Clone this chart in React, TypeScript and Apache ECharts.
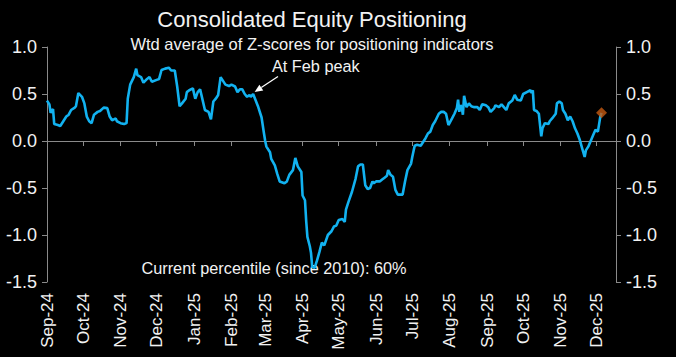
import React, { useEffect, useRef } from "react";
import * as echarts from "echarts";

const TITLE = "Consolidated Equity Positioning";
const SUBTITLE = "Wtd average of Z-scores for positioning indicators";
const PEAK_NOTE = "At Feb peak";
const PERCENTILE_NOTE = "Current percentile (since 2010): 60%";
const PEAK_DATE = "2025-02-19";

const AXIS_START = "2024-09-01";
const AXIS_END = "2025-12-17";
const MONTH_NAMES = ["Jan", "Feb", "Mar", "Apr", "May", "Jun", "Jul", "Aug", "Sep", "Oct", "Nov", "Dec"];
const Y_TICKS = [-1.5, -1.0, -0.5, 0.0, 0.5, 1.0];

const dates = [
  "2024-09-01", "2024-09-03", "2024-09-04", "2024-09-06", "2024-09-07", "2024-09-10", "2024-09-12", "2024-09-14",
  "2024-09-17", "2024-09-19", "2024-09-21", "2024-09-24", "2024-09-25", "2024-09-27", "2024-09-30",
  "2024-10-02", "2024-10-04", "2024-10-06", "2024-10-08", "2024-10-10", "2024-10-13", "2024-10-15", "2024-10-18",
  "2024-10-21", "2024-10-23", "2024-10-25", "2024-10-28", "2024-10-29",
  "2024-11-01", "2024-11-04", "2024-11-06", "2024-11-07", "2024-11-09", "2024-11-12", "2024-11-14", "2024-11-15",
  "2024-11-18", "2024-11-20", "2024-11-23", "2024-11-25", "2024-11-27",
  "2024-12-01", "2024-12-03", "2024-12-05", "2024-12-08", "2024-12-11", "2024-12-13", "2024-12-16", "2024-12-18",
  "2024-12-20", "2024-12-22", "2024-12-25", "2024-12-26", "2024-12-28", "2024-12-31",
  "2025-01-02", "2025-01-04", "2025-01-06", "2025-01-08", "2025-01-10", "2025-01-13", "2025-01-15", "2025-01-17",
  "2025-01-19", "2025-01-21", "2025-01-23", "2025-01-25", "2025-01-27", "2025-01-30",
  "2025-02-01", "2025-02-04", "2025-02-06", "2025-02-08", "2025-02-10", "2025-02-12", "2025-02-14", "2025-02-16",
  "2025-02-17", "2025-02-19", "2025-02-23", "2025-02-25", "2025-02-26", "2025-02-28",
  "2025-03-01", "2025-03-02", "2025-03-05", "2025-03-06", "2025-03-09", "2025-03-11", "2025-03-13", "2025-03-17",
  "2025-03-19", "2025-03-21", "2025-03-24", "2025-03-26", "2025-03-28", "2025-03-31",
  "2025-04-01", "2025-04-03", "2025-04-04", "2025-04-05", "2025-04-07", "2025-04-08", "2025-04-09", "2025-04-11",
  "2025-04-13", "2025-04-15", "2025-04-17", "2025-04-19", "2025-04-22", "2025-04-25", "2025-04-27", "2025-04-29",
  "2025-05-01", "2025-05-04", "2025-05-06", "2025-05-07", "2025-05-09", "2025-05-12", "2025-05-15", "2025-05-17",
  "2025-05-19", "2025-05-21", "2025-05-23", "2025-05-25", "2025-05-27", "2025-05-29", "2025-05-30",
  "2025-06-01", "2025-06-04", "2025-06-06", "2025-06-08", "2025-06-10", "2025-06-11", "2025-06-13", "2025-06-15",
  "2025-06-17", "2025-06-19", "2025-06-23", "2025-06-25", "2025-06-27", "2025-06-30",
  "2025-07-01", "2025-07-03", "2025-07-05", "2025-07-08", "2025-07-10", "2025-07-12", "2025-07-14", "2025-07-16",
  "2025-07-18", "2025-07-20", "2025-07-23", "2025-07-25", "2025-07-27", "2025-07-29", "2025-07-31",
  "2025-08-03", "2025-08-05", "2025-08-07", "2025-08-08", "2025-08-09", "2025-08-10", "2025-08-11", "2025-08-12",
  "2025-08-13", "2025-08-15", "2025-08-17", "2025-08-19", "2025-08-21", "2025-08-24", "2025-08-26", "2025-08-28",
  "2025-08-31",
  "2025-09-02", "2025-09-04", "2025-09-07", "2025-09-08", "2025-09-11", "2025-09-13", "2025-09-15", "2025-09-17",
  "2025-09-19", "2025-09-22", "2025-09-24", "2025-09-26", "2025-09-29",
  "2025-10-01", "2025-10-04", "2025-10-07", "2025-10-08", "2025-10-09", "2025-10-10", "2025-10-12", "2025-10-14",
  "2025-10-16", "2025-10-17", "2025-10-19", "2025-10-22", "2025-10-23", "2025-10-25", "2025-10-28", "2025-10-29",
  "2025-10-31",
  "2025-11-02", "2025-11-03", "2025-11-05", "2025-11-07", "2025-11-09", "2025-11-11", "2025-11-13", "2025-11-15",
  "2025-11-17", "2025-11-19", "2025-11-21", "2025-11-22", "2025-11-24", "2025-11-26", "2025-11-28", "2025-11-30",
  "2025-12-02", "2025-12-04", "2025-12-05",
];

const values = [
  0.43, 0.39, 0.30, 0.34, 0.18, 0.17, 0.16, 0.20,
  0.26, 0.28, 0.33, 0.355, 0.37, 0.51, 0.47,
  0.40, 0.26, 0.21, 0.19, 0.28, 0.31, 0.32, 0.355,
  0.35, 0.26, 0.22, 0.24, 0.21,
  0.19, 0.18, 0.19, 0.45, 0.60, 0.68, 0.77, 0.70,
  0.68, 0.62, 0.66, 0.68, 0.63,
  0.65, 0.66, 0.755, 0.77, 0.78, 0.75, 0.75, 0.58,
  0.37, 0.40, 0.45, 0.52, 0.54, 0.56,
  0.45, 0.52, 0.55, 0.44, 0.33, 0.31, 0.23, 0.42,
  0.45, 0.49, 0.68, 0.64, 0.60, 0.585,
  0.60, 0.58, 0.52, 0.55, 0.55, 0.50, 0.47, 0.49,
  0.47, 0.50, 0.37, 0.29, 0.25, 0.08,
  0.00, -0.06, -0.12, -0.19, -0.26, -0.35, -0.43, -0.45,
  -0.43, -0.36, -0.31, -0.18, -0.27, -0.33,
  -0.58, -0.63, -0.85, -1.02, -1.12, -1.19, -1.34, -1.35,
  -1.27, -1.18, -1.08, -1.11, -1.00, -0.96, -0.91, -0.90,
  -0.84, -0.83, -0.86, -0.73, -0.65, -0.54, -0.40, -0.27,
  -0.25, -0.25, -0.47, -0.51, -0.50, -0.43, -0.45,
  -0.43, -0.43, -0.41, -0.39, -0.37, -0.31, -0.36, -0.38,
  -0.52, -0.57, -0.57, -0.43, -0.31, -0.24,
  -0.17, -0.05, -0.04, -0.05, -0.01, 0.03, 0.08, 0.10,
  0.17, 0.21, 0.29, 0.31, 0.31, 0.29, 0.17,
  0.24, 0.29, 0.35, 0.44, 0.31, 0.38, 0.36, 0.28,
  0.48, 0.36, 0.40, 0.37, 0.36, 0.36, 0.33, 0.39,
  0.38,
  0.36, 0.31, 0.35, 0.38, 0.36, 0.39, 0.36, 0.33,
  0.40, 0.43, 0.49, 0.44, 0.43,
  0.50, 0.52, 0.54, 0.51, 0.54, 0.33, 0.32, 0.29,
  0.05, 0.135, 0.19, 0.18, 0.21, 0.24, 0.29, 0.40,
  0.42,
  0.40, 0.33, 0.29, 0.22, 0.26, 0.21, 0.135, 0.08,
  0.01, -0.08, -0.17, -0.10, -0.06, 0.00, 0.06, 0.12,
  0.10, 0.26, 0.30,
];

function buildCategories(start: string, end: string): string[] {
  const out: string[] = [];
  const s = new Date(start + "T00:00:00Z").getTime();
  const e = new Date(end + "T00:00:00Z").getTime();
  for (let t = s; t <= e; t += 86400000) {
    out.push(new Date(t).toISOString().slice(0, 10));
  }
  return out;
}

const FONT = "'Liberation Sans', Arial, sans-serif";
const LINE_COLOR = "#12B2F0";
const DIAMOND_COLOR = "#C55A11";
const AXIS_COLOR = "#8a8a8a";
const TEXT_COLOR = "#f2f2f2";

export default function App() {
  const ref = useRef<HTMLDivElement>(null);

  useEffect(() => {
    document.body.style.margin = "0";
    document.body.style.background = "#000";
    if (!ref.current) return;
    const chart = echarts.init(ref.current, null, { renderer: "svg" });

    const categories = buildCategories(AXIS_START, AXIS_END);
    const seriesData = dates.map((d, i) => [categories.indexOf(d), values[i]]);
    const lastIdx = dates.length - 1;
    const isMonthStart = (_i: number, v: string) => v.slice(8, 10) === "01";
    const fmtMonth = (v: string) => MONTH_NAMES[parseInt(v.slice(5, 7), 10) - 1] + "-" + v.slice(2, 4);

    const yAxisCommon = {
      type: "value",
      min: Y_TICKS[0],
      max: Y_TICKS[Y_TICKS.length - 1],
      interval: 0.5,
      splitLine: { show: false },
      axisLine: { show: true, lineStyle: { color: AXIS_COLOR, width: 1 } },
      axisTick: { show: true, length: 5, lineStyle: { color: AXIS_COLOR } },
      axisLabel: {
        color: TEXT_COLOR,
        fontSize: 18,
        fontFamily: FONT,
        margin: 10,
        formatter: (v: number) => v.toFixed(1),
      },
    };

    const option: any = {
      animation: false,
      backgroundColor: "#000",
      grid: { left: 47, right: 60, top: 47, bottom: 75, containLabel: false },
      xAxis: [
        {
          type: "category",
          data: categories,
          boundaryGap: false,
          position: "bottom",
          axisLine: { show: true, onZero: true, lineStyle: { color: AXIS_COLOR, width: 1 } },
          axisTick: { show: true, length: 5, interval: isMonthStart, lineStyle: { color: AXIS_COLOR } },
          axisLabel: { show: false },
          splitLine: { show: false },
        },
        {
          type: "category",
          data: categories,
          boundaryGap: false,
          position: "bottom",
          axisLine: { show: false, onZero: false },
          axisTick: { show: false },
          axisLabel: {
            show: true,
            interval: isMonthStart,
            formatter: fmtMonth,
            rotate: 90,
            margin: 11,
            color: TEXT_COLOR,
            fontSize: 17,
            fontFamily: FONT,
          },
          splitLine: { show: false },
        },
      ],
      yAxis: [
        { ...yAxisCommon, position: "left" },
        { ...yAxisCommon, position: "right" },
      ],
      series: [
        {
          type: "line",
          name: "Consolidated positioning",
          xAxisIndex: 0,
          yAxisIndex: 0,
          data: seriesData,
          showSymbol: false,
          symbol: "none",
          lineStyle: { color: LINE_COLOR, width: 2.6 },
          z: 3,
        },
        {
          type: "scatter",
          name: "Latest",
          xAxisIndex: 0,
          yAxisIndex: 0,
          data: [seriesData[lastIdx]],
          symbol: "diamond",
          symbolSize: 11,
          itemStyle: { color: DIAMOND_COLOR },
          z: 4,
        },
      ],
    };
    chart.setOption(option);

    const peakIdx = dates.indexOf(PEAK_DATE);
    const p = chart.convertToPixel({ xAxisIndex: 0, yAxisIndex: 0 }, seriesData[peakIdx]) as number[];
    const tip = [p[0] + 1.5, p[1] - 2];
    const ux = 0.833, uy = -0.555;
    const nx = 0.555, ny = 0.833;
    const headLen = 8, headW = 3.5, totalLen = 28;
    const base = [tip[0] + ux * headLen, tip[1] + uy * headLen];
    const tail = [tip[0] + ux * totalLen, tip[1] + uy * totalLen];

    chart.setOption({
      graphic: [
        {
          type: "text",
          id: "title",
          x: 312,
          y: 19,
          style: {
            text: TITLE,
            fill: TEXT_COLOR,
            fontSize: 22,
            fontFamily: FONT,
            textAlign: "center",
            textVerticalAlign: "middle",
          },
        },
        {
          type: "text",
          id: "subtitle",
          x: 312,
          y: 44,
          style: {
            text: SUBTITLE,
            fill: TEXT_COLOR,
            fontSize: 16.5,
            fontFamily: FONT,
            textAlign: "center",
            textVerticalAlign: "middle",
          },
        },
        {
          type: "text",
          id: "peaknote",
          x: tail[0] - 6,
          y: tail[1] - 10,
          style: {
            text: PEAK_NOTE,
            fill: TEXT_COLOR,
            fontSize: 16.3,
            fontFamily: FONT,
            textAlign: "left",
            textVerticalAlign: "middle",
          },
        },
        {
          type: "line",
          id: "arrowline",
          shape: { x1: base[0], y1: base[1], x2: tail[0], y2: tail[1] },
          style: { stroke: "#ffffff", lineWidth: 1.2 },
        },
        {
          type: "polygon",
          id: "arrowhead",
          shape: {
            points: [
              [tip[0], tip[1]],
              [base[0] + nx * headW, base[1] + ny * headW],
              [base[0] - nx * headW, base[1] - ny * headW],
            ],
          },
          style: { fill: "#ffffff" },
        },
        {
          type: "text",
          id: "pctnote",
          x: 274,
          y: 268,
          style: {
            text: PERCENTILE_NOTE,
            fill: TEXT_COLOR,
            fontSize: 16.3,
            fontFamily: FONT,
            textAlign: "center",
            textVerticalAlign: "middle",
          },
        },
      ],
    });

    return () => chart.dispose();
  }, []);

  return <div ref={ref} style={{ width: 676, height: 357, background: "#000" }} />;
}
